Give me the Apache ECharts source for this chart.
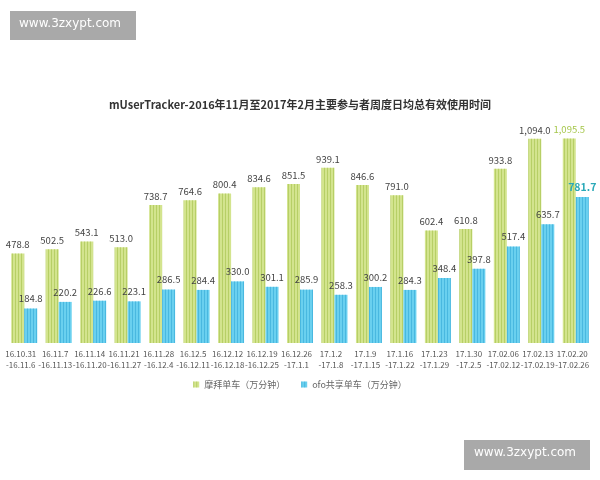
<!DOCTYPE html>
<html>
<head>
<meta charset="utf-8">
<script src="https://cdn.jsdelivr.net/npm/echarts@6/dist/echarts.min.js"></script>
<style>
  html, body { margin: 0; padding: 0; background: #fff; }
  #main { width: 600px; height: 480px; }
</style>
</head>
<body>
<div id="main"></div>
<script>
// 周度区间
const weeks = [
  '16.10.31\n-16.11.6', '16.11.7\n-16.11.13', '16.11.14\n-16.11.20', '16.11.21\n-16.11.27',
  '16.11.28\n-16.12.4', '16.12.5\n-16.12.11', '16.12.12\n-16.12.18', '16.12.19\n-16.12.25',
  '16.12.26\n-17.1.1', '17.1.2\n-17.1.8', '17.1.9\n-17.1.15', '17.1.16\n-17.1.22',
  '17.1.23\n-17.1.29', '17.1.30\n-17.2.5', '17.02.06\n-17.02.12', '17.02.13\n-17.02.19',
  '17.02.20\n-17.02.26'
]
const mobike = [478.8, 502.5, 543.1, 513.0, 738.7, 764.6, 800.4, 834.6, 851.5, 939.1, 846.6, 791.0, 602.4, 610.8, 933.8, 1094.0, 1095.5]
const ofo = [184.8, 220.2, 226.6, 223.1, 286.5, 284.4, 330.0, 301.1, 285.9, 258.3, 300.2, 284.3, 348.4, 397.8, 517.4, 635.7, 781.7]

const fmt = (v) => v.toLocaleString('en-US', { minimumFractionDigits: 1, maximumFractionDigits: 1 })
const lastIdx = weeks.length - 1

// 竖条纹理
const stripes = (c) => ({
  symbol: 'rect',
  symbolSize: 1,
  color: c,
  dashArrayX: [1, 2],
  dashArrayY: [4, 0],
  rotation: 0
})

const chart = echarts.init(document.getElementById('main'))
const option = {
  backgroundColor: '#ffffff',
  textStyle: { fontFamily: '"Noto Sans CJK SC", "Noto Sans", sans-serif' },
  title: {
    text: 'mUserTracker-2016年11月至2017年2月主要参与者周度日均总有效使用时间',
    left: 'center',
    top: 94,
    textStyle: { fontSize: 11, fontWeight: 'bold', color: '#333' }
  },
  legend: {
    top: 375,
    left: 'center',
    itemWidth: 6,
    itemHeight: 6,
    itemGap: 16,
    icon: 'rect',
    textStyle: { fontSize: 9, color: '#666' },
    data: ['摩拜单车（万分钟）', 'ofo共享单车（万分钟）']
  },
  grid: { left: 7, right: 7, top: 119, bottom: 137 },
  xAxis: {
    type: 'category',
    data: weeks,
    axisLine: { show: false },
    axisTick: { show: false },
    axisLabel: { interval: 0, fontSize: 8, color: '#555', lineHeight: 11, margin: 5, padding: [0, 7, 0, 0] }
  },
  yAxis: {
    type: 'value',
    min: 0,
    max: 1200,
    show: false,
    splitLine: { show: false }
  },
  series: [
    {
      name: '摩拜单车（万分钟）',
      type: 'bar',
      data: mobike.map((v, i) => i === lastIdx
        ? { value: v, label: { color: '#a5c64a' } }
        : v),
      barWidth: 13,
      barGap: '0%',
      itemStyle: { color: '#d3e48e', decal: stripes('rgba(160,190,70,0.55)') },
      label: {
        show: true,
        position: 'top',
        distance: 4,
        fontSize: 9.5,
        color: '#444',
        formatter: (p) => fmt(p.value)
      }
    },
    {
      name: 'ofo共享单车（万分钟）',
      type: 'bar',
      data: ofo.map((v, i) => i === lastIdx
        ? { value: v, label: { color: '#2aa9b8', fontWeight: 'bold', fontSize: 10.5 } }
        : v),
      barWidth: 13,
      itemStyle: { color: '#6ad0ef', decal: stripes('rgba(40,160,210,0.5)') },
      label: {
        show: true,
        position: 'top',
        distance: 5,
        fontSize: 9.5,
        color: '#444',
        formatter: (p) => fmt(p.value)
      }
    }
  ],
  graphic: [
    { type: 'rect', left: 10, top: 11, shape: { width: 126, height: 29 }, style: { fill: '#a9a9a9' } },
    { type: 'text', left: 19, top: 18, style: { text: 'www.3zxypt.com', fill: '#fff', fontSize: 12, fontFamily: 'DejaVu Sans' } },
    { type: 'rect', left: 464, top: 440, shape: { width: 126, height: 30 }, style: { fill: '#a9a9a9' } },
    { type: 'text', left: 474, top: 447, style: { text: 'www.3zxypt.com', fill: '#fff', fontSize: 12, fontFamily: 'DejaVu Sans' } }
  ]
}
chart.setOption(option)
</script>
</body>
</html>
